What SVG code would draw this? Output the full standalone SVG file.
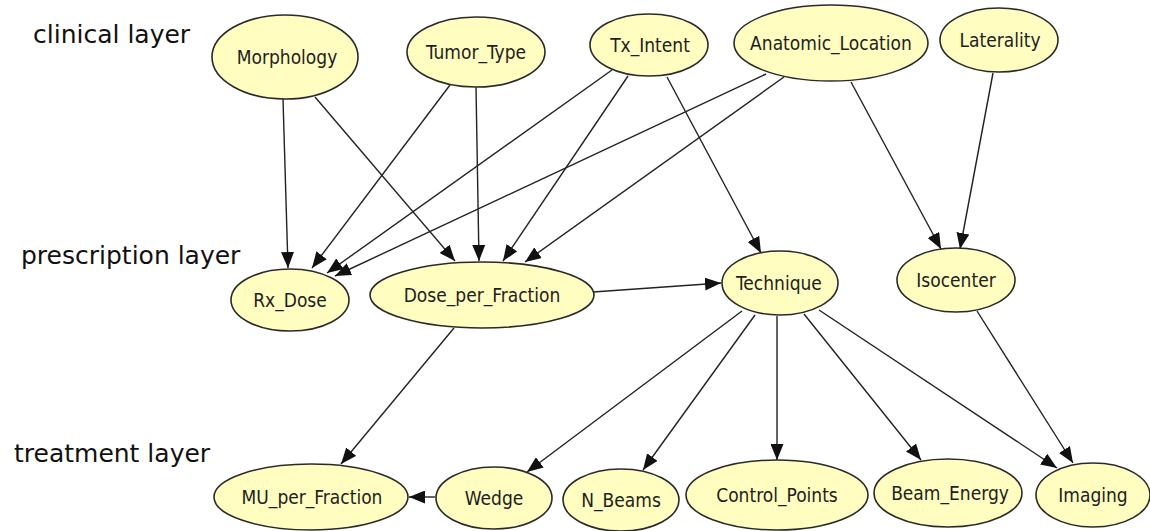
<svg xmlns="http://www.w3.org/2000/svg" width="1150" height="531" viewBox="0 0 1150 531">
<style>
.node ellipse{fill:#FFFDBF;stroke:#2a2a2a;stroke-width:1.6}
.node text{font-family:"DejaVu Sans Condensed","DejaVu Sans","Liberation Sans",sans-serif;font-stretch:condensed;font-size:19px;fill:#1e1e1e;text-anchor:middle}
.layer{font-family:"DejaVu Sans","Liberation Sans",sans-serif;font-size:25px;fill:#111}
.edges line{stroke:#222;stroke-width:1.4;marker-end:url(#arr)}
</style>
<defs>
<marker id="arr" markerUnits="userSpaceOnUse" viewBox="0 0 16 13" markerWidth="16" markerHeight="13" refX="16" refY="6.5" orient="auto">
<path d="M0,0 L16,6.5 L0,13 z" fill="#111"/>
</marker>
</defs>
<rect width="1150" height="531" fill="#fff"/>
<text class="layer" x="33" y="43">clinical layer</text>
<text class="layer" x="21" y="264">prescription layer</text>
<text class="layer" x="14" y="462">treatment layer</text>
<g class="edges" id="edges">
<line x1="283" y1="99" x2="288" y2="268"/>
<line x1="315" y1="97" x2="455" y2="261"/>
<line x1="450" y1="85" x2="312" y2="268"/>
<line x1="476" y1="87" x2="479" y2="261"/>
<line x1="612" y1="70" x2="327" y2="273"/>
<line x1="628" y1="76" x2="503" y2="261"/>
<line x1="667" y1="77" x2="761" y2="253"/>
<line x1="766" y1="74" x2="335" y2="276"/>
<line x1="784" y1="77" x2="525" y2="262"/>
<line x1="851" y1="82" x2="941" y2="249"/>
<line x1="993" y1="73" x2="960" y2="249"/>
<line x1="593" y1="292" x2="721" y2="283"/>
<line x1="454" y1="328" x2="341" y2="464"/>
<line x1="742" y1="311" x2="527" y2="472"/>
<line x1="755" y1="315" x2="643" y2="470"/>
<line x1="777" y1="316" x2="777" y2="460"/>
<line x1="804" y1="314" x2="921" y2="460"/>
<line x1="819" y1="310" x2="1057" y2="468"/>
<line x1="977" y1="311" x2="1073" y2="463"/>
<line x1="435" y1="497" x2="409" y2="497"/>
</g>
<g class="node" id="Morphology"><ellipse cx="285" cy="57" rx="73" ry="42"/><text x="287" y="64">Morphology</text></g>
<g class="node" id="Tumor_Type"><ellipse cx="476" cy="52" rx="69" ry="35"/><text x="476" y="59">Tumor_Type</text></g>
<g class="node" id="Tx_Intent"><ellipse cx="649" cy="45" rx="59" ry="31"/><text x="650" y="52">Tx_Intent</text></g>
<g class="node" id="Anatomic_Location"><ellipse cx="831" cy="43" rx="97" ry="38"/><text x="831" y="50">Anatomic_Location</text></g>
<g class="node" id="Laterality"><ellipse cx="999" cy="40" rx="59" ry="32"/><text x="1000" y="47">Laterality</text></g>
<g class="node" id="Rx_Dose"><ellipse cx="290" cy="300" rx="59" ry="31"/><text x="290" y="307">Rx_Dose</text></g>
<g class="node" id="Dose_per_Fraction"><ellipse cx="482" cy="295" rx="112" ry="33"/><text x="482" y="302">Dose_per_Fraction</text></g>
<g class="node" id="Technique"><ellipse cx="780" cy="283" rx="58" ry="32"/><text x="779" y="290">Technique</text></g>
<g class="node" id="Isocenter"><ellipse cx="956" cy="280" rx="59" ry="32"/><text x="956" y="287">Isocenter</text></g>
<g class="node" id="MU_per_Fraction"><ellipse cx="311" cy="497" rx="97" ry="33"/><text x="312" y="504">MU_per_Fraction</text></g>
<g class="node" id="Wedge"><ellipse cx="494" cy="498" rx="58" ry="31"/><text x="494" y="505">Wedge</text></g>
<g class="node" id="N_Beams"><ellipse cx="621" cy="500" rx="58" ry="31"/><text x="621" y="507">N_Beams</text></g>
<g class="node" id="Control_Points"><ellipse cx="777" cy="495" rx="91" ry="35"/><text x="777" y="502">Control_Points</text></g>
<g class="node" id="Beam_Energy"><ellipse cx="948" cy="493" rx="74" ry="34"/><text x="950" y="500">Beam_Energy</text></g>
<g class="node" id="Imaging"><ellipse cx="1093" cy="495" rx="57" ry="32"/><text x="1093" y="502">Imaging</text></g>
</svg>
